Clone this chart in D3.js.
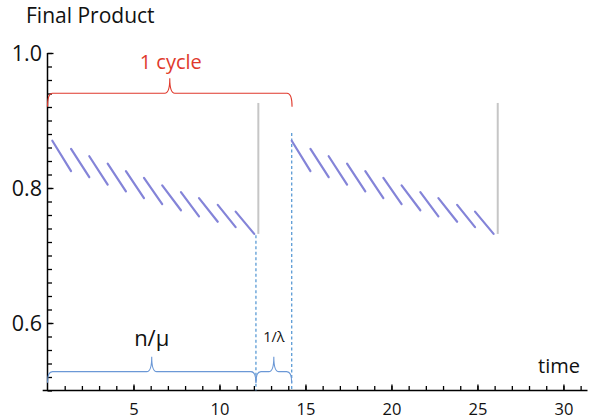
<!DOCTYPE html>
<html>
<head>
<meta charset="utf-8">
<script src="https://cdn.jsdelivr.net/npm/d3@7/dist/d3.min.js"></script>
<style>
  html, body { margin: 0; padding: 0; background: #fff; }
  svg { display: block; font-family: "Open Sans", "Noto Sans", sans-serif; }
</style>
</head>
<body>
<svg id="chart" width="592" height="420"></svg>
<script>
// ---- data ----
const segStartT = [0.28, 1.37, 2.43, 3.50, 4.56, 5.61, 6.67, 7.76, 8.81, 9.90, 10.94];
const segEndT   = [1.37, 2.43, 3.50, 4.56, 5.61, 6.67, 7.76, 8.81, 9.90, 10.94, 12.02];
const segStartV = [0.870, 0.858, 0.847, 0.836, 0.825, 0.815, 0.804, 0.794, 0.785, 0.775, 0.765];
const segEndV   = [0.825, 0.816, 0.805, 0.795, 0.785, 0.776, 0.767, 0.758, 0.750, 0.742, 0.732];
const cycleShift = [0, 13.92];
const resetT = 12.26;            // grey vertical line (end of production run)
const resetV = [0.732, 0.926];
const dashT = [12.12, 14.20];    // dashed markers
const dashTopV = [0.730, 0.8815];
const xMinorTicks = d3.range(1, 32);
const xMajorTicks = [5, 10, 15, 20, 25, 30];
const yMinorTicks = d3.range(25, 51).map(i => +(i * 0.02).toFixed(2));
const yMajorTicks = [0.6, 0.8, 1.0];
const yTickLabels = ["0.6", "0.8", "1.0"];
// braces: [t0, t1, level]
const cycleBrace = [0, 14.22, 0.9403];
const blueBraces = [[0, 12.12, 0.5279], [12.12, 14.20, 0.5279]];
const labels = {
  title: "Final Product", xTitle: "time", cycle: "1 cycle",
  prod: "n/\u03bc", wait: "1/\u03bb"
};

// ---- scales ----
const svg = d3.select("#chart");
const x = d3.scaleLinear().domain([0, 31.4]).range([47.5, 587.5]);
const y = d3.scaleLinear().domain([0.5, 1.0]).range([390.5, 53]);

// ---- axes ----
const axisG = svg.append("g");
axisG.append("line")
  .attr("x1", x(-0.28)).attr("x2", x(31.4))
  .attr("y1", y(0.5)).attr("y2", y(0.5))
  .attr("stroke", "#000").attr("stroke-width", 1.5);
axisG.append("line")
  .attr("x1", x(0)).attr("x2", x(0))
  .attr("y1", y(0.5)).attr("y2", y(1.0))
  .attr("stroke", "#000").attr("stroke-width", 1.5);

const xMinor = d3.axisBottom(x).tickValues(xMinorTicks).tickSizeInner(-4.5).tickSizeOuter(0).tickFormat("");
const xMajor = d3.axisBottom(x).tickValues(xMajorTicks).tickSizeInner(-6).tickSizeOuter(0).tickPadding(12.6).tickFormat(d3.format("d"));
const yMinor = d3.axisLeft(y).tickValues(yMinorTicks).tickSizeInner(-4.5).tickSizeOuter(0).tickFormat("");
const yMajor = d3.axisLeft(y).tickValues(yMajorTicks).tickSizeInner(-6).tickSizeOuter(0).tickPadding(5.5)
  .tickFormat((d, i) => yTickLabels[i]);

function styleAxis(g) {
  g.select(".domain").remove();
  g.selectAll(".tick line").attr("stroke", "#000").attr("stroke-width", 1.3);
  g.selectAll(".tick text").attr("fill", "#111").attr("font-family", "'Open Sans', sans-serif");
}
svg.append("g").attr("transform", `translate(0,${y(0.5)})`).call(xMinor).call(styleAxis);
svg.append("g").attr("transform", `translate(0,${y(0.5)})`).call(xMajor).call(styleAxis)
  .selectAll(".tick text").attr("font-size", 16.5);
svg.append("g").attr("transform", `translate(${x(0)},0)`).call(yMinor).call(styleAxis);
svg.append("g").attr("transform", `translate(${x(0)},0)`).call(yMajor).call(styleAxis)
  .selectAll(".tick text").attr("font-size", 21.5).attr("dy", "0.36em");

// ---- dashed markers ----
svg.append("g").selectAll("line").data(dashT).join("line")
  .attr("x1", d => x(d)).attr("x2", d => x(d))
  .attr("y1", (d, i) => y(dashTopV[i])).attr("y2", y(0.5))
  .attr("stroke", "#5b9bd5").attr("stroke-width", 1.3).attr("stroke-dasharray", "3,2.5");

// ---- grey reset lines ----
svg.append("g").selectAll("line").data(cycleShift).join("line")
  .attr("x1", s => x(resetT + s)).attr("x2", s => x(resetT + s))
  .attr("y1", y(resetV[0])).attr("y2", y(resetV[1]))
  .attr("stroke", "#c6c6c6").attr("stroke-width", 2);

// ---- sawtooth segments ----
const segs = [];
cycleShift.forEach(s => {
  segStartT.forEach((t, i) => segs.push({t0: t + s, t1: segEndT[i] + s, v0: segStartV[i], v1: segEndV[i]}));
});
svg.append("g").selectAll("line").data(segs).join("line")
  .attr("x1", d => x(d.t0)).attr("x2", d => x(d.t1))
  .attr("y1", d => y(d.v0)).attr("y2", d => y(d.v1))
  .attr("stroke", "#8484d8").attr("stroke-width", 2.2).attr("stroke-linecap", "round");

// ---- braces ----
function bracePath(t0, t1, v, hEnd, tip, r) {
  const x1 = x(t0), x2 = x(t1), yb = y(v), xm = (x1 + x2) / 2;
  return `M${x1},${yb + hEnd} Q${x1},${yb} ${x1 + r},${yb} L${xm - r},${yb} Q${xm},${yb} ${xm},${yb - tip}` +
         ` Q${xm},${yb} ${xm + r},${yb} L${x2 - r},${yb} Q${x2},${yb} ${x2},${yb + hEnd}`;
}
svg.append("path").attr("d", bracePath(cycleBrace[0], cycleBrace[1], cycleBrace[2], 13.5, 15, 5))
  .attr("fill", "none").attr("stroke", "#e0392c").attr("stroke-width", 1.1);
svg.append("g").selectAll("path").data(blueBraces).join("path")
  .attr("d", d => bracePath(d[0], d[1], d[2], 11, 15, 5))
  .attr("fill", "none").attr("stroke", "#6b98d6").attr("stroke-width", 1.1);

// ---- texts ----
svg.append("text").attr("x", 26).attr("y", 23).attr("font-size", 21).attr("fill", "#111").text(labels.title);
svg.append("text").attr("x", 580).attr("y", 373).attr("text-anchor", "end").attr("font-size", 20).attr("fill", "#111").text(labels.xTitle);
svg.append("text").attr("x", (x(cycleBrace[0]) + x(cycleBrace[1])) / 2 + 1).attr("y", 69)
  .attr("text-anchor", "middle").attr("font-size", 20).attr("fill", "#e0392c").text(labels.cycle);
svg.append("text").attr("x", (x(blueBraces[0][0]) + x(blueBraces[0][1])) / 2).attr("y", 346)
  .attr("text-anchor", "middle").attr("font-size", 22).attr("fill", "#111").text(labels.prod);
svg.append("text").attr("x", (x(blueBraces[1][0]) + x(blueBraces[1][1])) / 2).attr("y", 342)
  .attr("text-anchor", "middle").attr("font-size", 14.5).attr("fill", "#111").text(labels.wait);
</script>
</body>
</html>
